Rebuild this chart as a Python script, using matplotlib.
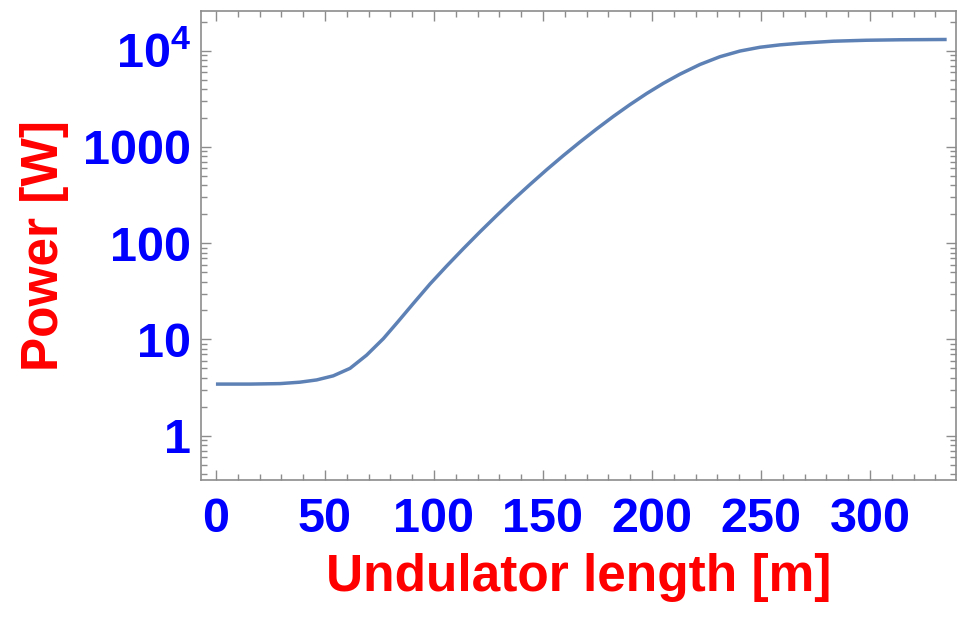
import numpy as np
import matplotlib
matplotlib.use('Agg')
import matplotlib.pyplot as plt
from matplotlib.ticker import FixedLocator, FixedFormatter, NullFormatter, MultipleLocator

plt.rcParams['font.family'] = ['Liberation Sans', 'DejaVu Sans']
plt.rcParams['mathtext.fontset'] = 'custom'
plt.rcParams['mathtext.bf'] = 'Liberation Sans:bold'
plt.rcParams['mathtext.rm'] = 'Liberation Sans:bold'

# undulator length [m] and radiated power [W]
length_m = [0, 15.6, 29.4, 38.5, 46.2, 53.8, 61.5, 69.1, 76.8, 83.5, 90.5,
            98.2, 105.8, 113.4, 121.1, 128.8, 136.4, 144.0, 151.8, 159.3,
            167.0, 174.6, 182.3, 189.9, 197.6, 205.2, 212.8, 222.0, 231.2,
            240.4, 249.5, 258.7, 267.9, 283.2, 298.2, 313.8, 335.2]
power_w = [3.44, 3.44, 3.48, 3.60, 3.80, 4.19, 5.01, 6.87, 10.2, 15.3, 23.6,
           37.7, 57.8, 87.3, 131, 194, 283, 406, 582, 811,
           1125, 1535, 2075, 2748, 3589, 4571, 5689, 7178, 8650,
           9908, 10840, 11480, 11940, 12530, 12820, 12970, 13060]

y_ticks = [1, 10, 100, 1000, 10000]
y_tick_labels = ['1', '10', '100', '1000', r'$\mathbf{10^{4}}$']
x_ticks = [0, 50, 100, 150, 200, 250, 300]

frame_col = '#8c8c8c'

fig = plt.figure(figsize=(9.57, 6.18), dpi=100)
ax = fig.add_axes([0.2097, 0.2233, 0.7893, 0.7594])
ax.plot(length_m, power_w, color='#5E81B5', lw=2.5,
        solid_capstyle='butt', solid_joinstyle='round')

ax.set_yscale('log')
ax.set_xlim(-7, 339.5)
ax.set_ylim(0.347, 26000)

ax.xaxis.set_major_locator(FixedLocator(x_ticks))
ax.xaxis.set_minor_locator(MultipleLocator(10))
ax.yaxis.set_major_locator(FixedLocator(y_ticks))
ax.yaxis.set_major_formatter(FixedFormatter(y_tick_labels))
minor_y = [m * 10.0 ** e for e in range(-1, 5) for m in range(2, 10)]
ax.yaxis.set_minor_locator(FixedLocator(minor_y))
ax.yaxis.set_minor_formatter(NullFormatter())

for s in ax.spines.values():
    s.set_color(frame_col)
    s.set_linewidth(1.2)

ax.tick_params(which='both', direction='in', top=True, right=True,
               color=frame_col, width=1.0)
ax.tick_params(which='major', length=7)
ax.tick_params(which='minor', length=4)
ax.tick_params(axis='x', which='major', pad=12, labelsize=35, labelcolor='blue')
ax.tick_params(axis='y', which='major', pad=7, labelsize=35, labelcolor='blue')
for lab in ax.get_xticklabels() + ax.get_yticklabels():
    lab.set_fontweight('bold')

ax.set_xlabel('Undulator length [m]', fontsize=37, fontweight='bold',
              color='red', labelpad=8)
ax.set_ylabel('Power [W]', fontsize=37, fontweight='bold',
              color='red', labelpad=10)

fig.savefig('out.png', dpi=100)
